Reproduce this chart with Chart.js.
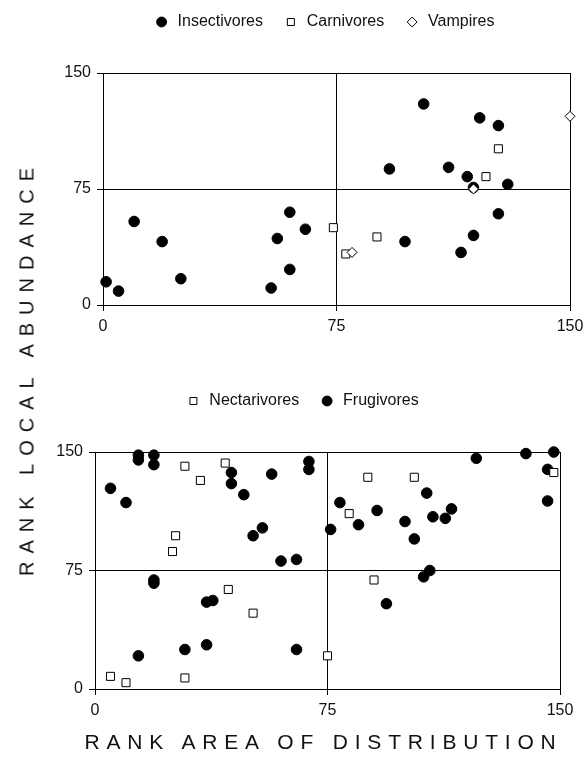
<!DOCTYPE html>
<html lang="en">
<head>
<meta charset="UTF-8">
<title>Rank local abundance vs rank area of distribution</title>
<script src="https://cdn.jsdelivr.net/npm/chart.js"></script>
<style>
  body { margin: 0; background: #fff; width: 583px; height: 769px; position: relative; overflow: hidden; font-family: "Liberation Sans", Arial, sans-serif; }
  .box { position: absolute; left: 0; width: 583px; }
  #topBox { top: -6px; height: 356px; }
  #bottomBox { top: 373px; height: 361px; }
  .axisTitle { position: absolute; color: #111; white-space: nowrap; }
  #yTitle { left: 27px; top: 372px; font-size: 20px; letter-spacing: 8px; padding-left: 8px; transform: translate(-50%, -50%) rotate(-90deg); }
  #xTitle { left: 320px; top: 742px; font-size: 21px; letter-spacing: 6.8px; padding-left: 7px; transform: translate(-50%, -50%); }
</style>
</head>
<body>
  <div class="box" id="topBox"><canvas id="topChart"></canvas></div>
  <div class="box" id="bottomBox"><canvas id="bottomChart"></canvas></div>
  <div class="axisTitle" id="yTitle">RANK LOCAL ABUNDANCE</div>
  <div class="axisTitle" id="xTitle">RANK AREA OF DISTRIBUTION</div>

<script>
// [rank area of distribution, rank local abundance]
const insectivores = [[1,15],[5,9],[10,54],[19,41],[25,17],[54,11],[56,43],[60,60],[60,23],[65,49],
  [103,130],[121,121],[127,116],[92,88],[111,89],[117,83],[130,78],[119,76],[127,59],[119,45],[97,41],[115,34]];
const carnivores = [[74,50],[78,33],[88,44],[123,83],[127,101]];
const vampires = [[80,34],[119,75],[150,122]];

const nectarivores = [[5,8],[10,4],[29,7],[25,87],[26,97],[29,141],[34,132],[42,143],[43,63],[51,48],
  [75,21],[82,111],[88,134],[90,69],[103,134],[148,137]];
const frugivores = [[5,127],[10,118],[14,148],[14,145],[19,148],[19,142],[44,137],[44,130],[48,123],[57,136],
  [69,144],[69,139],[51,97],[54,102],[60,81],[65,82],[19,69],[19,67],[36,55],[38,56],[14,21],[29,25],[36,28],
  [65,25],[123,146],[139,149],[148,150],[146,139],[146,119],[79,118],[76,101],[85,104],[91,113],[100,106],
  [107,124],[109,109],[113,108],[115,114],[103,95],[108,75],[106,71],[94,54]];

const tickValues = [0, 75, 150];

const FONT = "'Liberation Sans', Arial, sans-serif";

// nudges the legend sideways (the original legends sit off-centre)
const legendShift = {
  id: 'legendShift',
  afterLayout(chart, args, opts) {
    chart.legend.left += opts.dx;
    chart.legend.right += opts.dx;
  }
};

function pts(arr) {
  return arr.map(p => ({ x: p[0], y: p[1] }));
}

function filled(label, arr, order) {
  return { label: label, data: pts(arr), pointStyle: 'circle', pointRadius: 5.3,
    backgroundColor: '#000', borderColor: '#000', borderWidth: 1, clip: false, order: order };
}

function hollow(label, arr, style, r, order) {
  return { label: label, data: pts(arr), pointStyle: style, pointRadius: r,
    backgroundColor: '#fff', borderColor: '#000', borderWidth: 1, clip: false, order: order };
}

function axis(pos, size) {
  return {
    type: 'linear', position: pos, min: 0, max: 150,
    afterBuildTicks: s => { s.ticks = tickValues.map(v => ({ value: v })); },
    afterFit: s => {
      // keep the plot box where layout padding puts it
      s.paddingLeft = s.paddingRight = s.paddingTop = s.paddingBottom = 0;
      if (pos === 'left') s.width = size; else s.height = size;
    },
    grid: { color: '#000', lineWidth: 1, tickLength: 6 },
    border: { color: '#000', width: 1 },
    ticks: { color: '#111', padding: 6, maxRotation: 0, font: { family: FONT, size: 16 } }
  };
}

function buildChart(id, datasets, pad, dx) {
  return new Chart(document.getElementById(id), {
    type: 'scatter',
    data: { datasets: datasets },
    plugins: [legendShift],
    options: {
      responsive: true,
      maintainAspectRatio: false,
      animation: false,
      layout: { padding: pad },
      plugins: {
        legendShift: { dx: dx },
        legend: {
          position: 'top',
          labels: {
            usePointStyle: true, boxWidth: 7, boxHeight: 7, padding: 20, color: '#111',
            font: { family: FONT, size: 16 },
            sort: (a, b) => a.datasetIndex - b.datasetIndex,
            generateLabels: chart => Chart.defaults.plugins.legend.labels.generateLabels(chart)
              .map(l => Object.assign(l, { text: ' ' + l.text + ' ' }))
          }
        },
        tooltip: { enabled: false }
      },
      scales: {
        x: axis('bottom', 40),
        y: axis('left', 58),
        spacer: {
          type: 'linear', position: 'top', axis: 'x', display: true,
          grid: { display: false }, border: { display: false }, ticks: { display: false },
          afterFit: s => { s.height = 33; }
        }
      }
    }
  });
}

buildChart('topChart', [
  filled('Insectivores', insectivores, 3),
  hollow('Carnivores', carnivores, 'rect', 5.7, 2),
  hollow('Vampires', vampires, 'rectRot', 5, 1)
], { left: 45, right: 13, top: 0, bottom: 5 }, 21);

buildChart('bottomChart', [
  hollow('Nectarivores', nectarivores, 'rect', 5.7, 1),
  filled('Frugivores', frugivores, 2)
], { left: 37, right: 23, top: 0, bottom: 5 }, 8);
</script>
</body>
</html>
